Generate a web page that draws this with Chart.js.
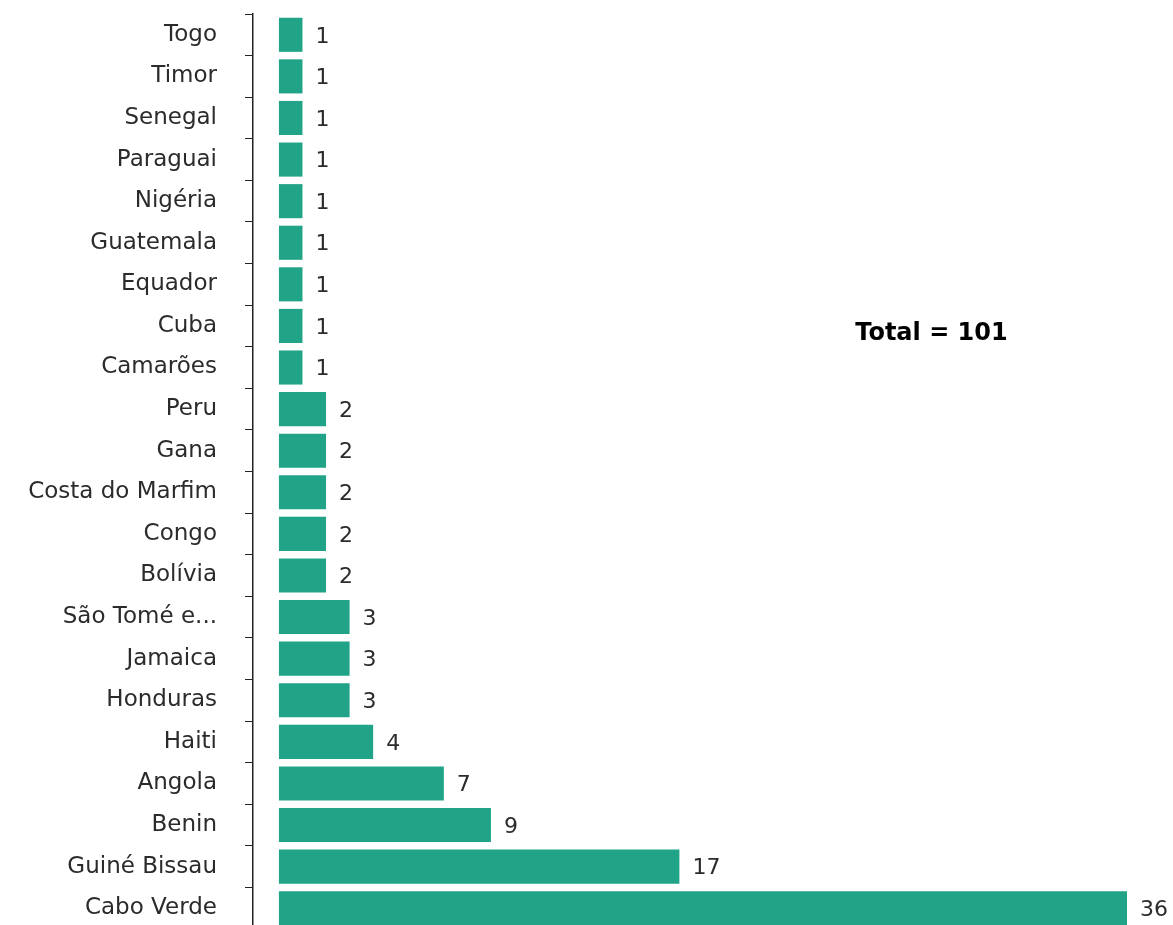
<!DOCTYPE html>
<html lang="pt">
<head>
    <meta charset="UTF-8">
    <title>Países de origem</title>
    <script src="https://cdn.jsdelivr.net/npm/chart.js"></script>
    <style>
        body {
            margin: 0;
            background: white;
            overflow: hidden;
        }
        .wrap {
            width: 1173px;
            height: 935px;
        }
    </style>
</head>
<body>
    <div class="wrap"><canvas id="paisesChart"></canvas></div>
    <script>
        const countries = ['Togo', 'Timor', 'Senegal', 'Paraguai', 'Nigéria', 'Guatemala', 'Equador', 'Cuba', 'Camarões',
            'Peru', 'Gana', 'Costa do Marfim', 'Congo', 'Bolívia', 'São Tomé e...', 'Jamaica', 'Honduras', 'Haiti',
            'Angola', 'Benin', 'Guiné Bissau', 'Cabo Verde'];
        const counts = [1, 1, 1, 1, 1, 1, 1, 1, 1, 2, 2, 2, 2, 2, 3, 3, 3, 4, 7, 9, 17, 36];
        const totalText = 'Total = 101';

        const fontFamily = '"DejaVu Sans", Verdana, sans-serif';

        // numbers at the end of each bar + the total note
        const valueLabels = {
            id: 'valueLabels',
            afterDatasetsDraw(chart) {
                let ctx = chart.ctx;
                let meta = chart.getDatasetMeta(0);
                ctx.save();
                ctx.font = '22px ' + fontFamily;
                ctx.fillStyle = '#2b2b2b';
                ctx.textAlign = 'left';
                ctx.textBaseline = 'middle';
                meta.data.forEach((bar, i) => {
                    ctx.fillText(counts[i], bar.x + 13, bar.y + 2);
                });
                let xs = chart.scales.x, ys = chart.scales.y;
                ctx.font = 'bold 24px ' + fontFamily;
                ctx.fillStyle = '#000';
                ctx.textAlign = 'center';
                ctx.fillText(totalText, xs.getPixelForValue(27.7), ys.getPixelForValue(7) + 8);
                ctx.restore();
            }
        };

        new Chart(document.getElementById('paisesChart'), {
            type: 'bar',
            data: {
                labels: countries,
                datasets: [{
                    data: counts,
                    backgroundColor: '#21a387',
                    barPercentage: 0.82,
                    categoryPercentage: 1
                }]
            },
            options: {
                indexAxis: 'y',
                responsive: true,
                maintainAspectRatio: false,
                animation: false,
                layout: { padding: { top: 14, right: 46, bottom: 6, left: 0 } },
                plugins: {
                    legend: { display: false },
                    tooltip: { enabled: false }
                },
                scales: {
                    x: {
                        display: false,
                        min: -1.1,
                        max: 36
                    },
                    y: {
                        afterFit(scale) {
                            scale.width = 253;
                            scale.paddingTop = 0;
                            scale.paddingBottom = 0;
                        },
                        border: { display: true, color: '#222', width: 1.5 },
                        grid: {
                            offset: true,
                            drawOnChartArea: false,
                            color: '#222',
                            tickLength: 8
                        },
                        ticks: {
                            padding: 28,
                            color: '#2b2b2b',
                            font: { family: fontFamily, size: 23 }
                        }
                    }
                }
            },
            plugins: [valueLabels]
        });
    </script>
</body>
</html>
